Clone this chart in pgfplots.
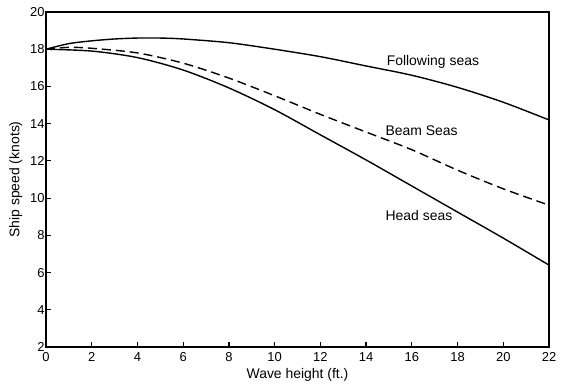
\documentclass[border=0pt]{standalone}
\usepackage{fontspec}
\setmainfont{Liberation Sans}
\usepackage{pgfplots}
\pgfplotsset{compat=1.18}
\begin{document}
\begin{tikzpicture}
\begin{axis}[
  name=ax,
  scale only axis,
  width=503bp, height=335bp,
  xmin=0, xmax=22, ymin=2, ymax=20,
  xtick={0,2,...,22}, ytick={2,4,...,20},
  tick align=inside,
  tick pos=left,
  major tick length=5bp,
  tick style={line width=1.2pt, black},
  axis line style={line width=1.6pt},
  /pgf/number format/assume math mode=true,
  tick label style={font=\fontsize{13}{15}\selectfont},
  xticklabel style={yshift=-2bp},
  yticklabel style={xshift=2bp},
  label style={font=\fontsize{14}{16}\selectfont},
  xlabel={Wave height (ft.)},
  ylabel={Ship speed (knots)},
  xlabel style={yshift=0bp},
  ylabel style={yshift=1bp},
  clip=false,
]
\addplot[black, line width=1.4pt, smooth] coordinates {(0,18.0) (1,18.3) (2,18.45) (3,18.55) (4,18.6) (5,18.6) (6,18.55) (8,18.35) (10,18.0) (12,17.6) (14,17.1) (16,16.6) (18,15.95) (20,15.15) (22,14.2)};
\addplot[black, line width=1.4pt, smooth, dash pattern=on 9bp off 5bp] coordinates {(0,18.0) (1,18.1) (2,18.05) (4,17.8) (6,17.25) (8,16.45) (10,15.5) (12,14.5) (14,13.55) (16,12.6) (18,11.5) (20,10.5) (22,9.62)};
\addplot[black, line width=1.4pt, smooth] coordinates {(0,18.0) (2,17.9) (4,17.55) (6,16.88) (8,15.92) (10,14.75) (12,13.4) (14,12.05) (16,10.65) (18,9.25) (20,7.85) (22,6.4)};
\node[anchor=west, font=\fontsize{14}{16}\selectfont] at (axis cs:14.75,17.3) {Following seas};
\node[anchor=west, font=\fontsize{14}{16}\selectfont] at (axis cs:14.7,13.6) {Beam Seas};
\node[anchor=west, font=\fontsize{14}{16}\selectfont] at (axis cs:14.7,9.05) {Head seas};
\end{axis}
\pgfresetboundingbox
\path ([shift={(-46bp,-41bp)}]ax.south west) rectangle ([shift={(23bp,12bp)}]ax.north east);
\end{tikzpicture}
\end{document}
